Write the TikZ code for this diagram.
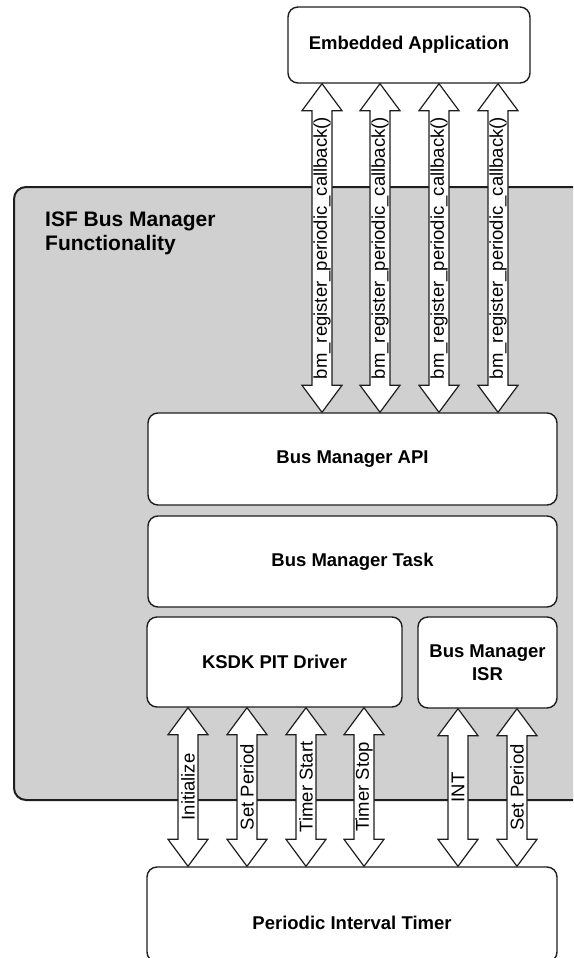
\documentclass[tikz,border=0pt]{standalone}
\usepackage{fontspec}
\setmainfont{Liberation Sans}
\usetikzlibrary{calc}
\definecolor{panelgray}{RGB}{208,208,208}
\definecolor{linedark}{RGB}{30,30,30}
\newcommand{\blockarrow}[3]{%
  \draw[barr] let \p1=(#1), \p2=(#2) in
    (\x1,\y1) -- (\x1+20pt,\y1-27pt) -- (\x1+10pt,\y1-27pt) -- (\x1+10pt,\y2+27pt)
    -- (\x1+20pt,\y2+27pt) -- (\x2,\y2) -- (\x1-20pt,\y2+27pt) -- (\x1-10pt,\y2+27pt)
    -- (\x1-10pt,\y1-27pt) -- (\x1-20pt,\y1-27pt) -- cycle;
  \node[arrlabel] at ($(#1)!0.5!(#2)$) {#3};
}
\tikzset{
  box/.style={draw=linedark, fill=white, line width=1.4pt, rounded corners=10pt,
    inner sep=0pt, font=\fontsize{18.5}{23}\selectfont\bfseries, align=center},
  barr/.style={draw=linedark, fill=white, line width=1.2pt, line join=miter},
  arrlabel/.style={rotate=90, inner sep=0pt, font=\fontsize{18.5}{20}\selectfont},
}
\begin{document}
\begin{tikzpicture}[x=1pt,y=-1pt]
\clip (0,0) rectangle (573,958);
\useasboundingbox (0,0) rectangle (573,958);
% panel
\draw[draw=linedark, fill=panelgray, line width=2pt, rounded corners=12pt] (14,187) rectangle (600,800);
\node[anchor=north west, inner sep=0pt, align=left, font=\fontsize{21}{24}\selectfont\bfseries] (isf) at (45,212) {ISF Bus Manager\\Functionality};
% boxes
\node[box, minimum width=242pt, minimum height=76pt] (emb) at (409,45) {Embedded Application};
\node[box, minimum width=409pt, minimum height=92pt] (api) at (352.5,459) {Bus Manager API};
\node[box, minimum width=409pt, minimum height=91pt] (task) at (352.5,561.5) {Bus Manager Task};
\node[box, minimum width=255pt, minimum height=90pt] (drv) at (274.5,662) {KSDK PIT Driver};
\node[box, minimum width=139pt, minimum height=91pt] (isr) at (487.5,662.5) {Bus Manager\\ISR};
\node[box, minimum width=410pt, minimum height=95pt] (pit) at (352,914.5) {};
\node[inner sep=0pt, font=\fontsize{18.5}{23}\selectfont\bfseries] (pittext) at (352,923) {Periodic Interval Timer};
% top arrows
\coordinate (t1) at ([xshift=-87pt]emb.south);
\coordinate (t2) at ([xshift=-29pt]emb.south);
\coordinate (t3) at ([xshift=30pt]emb.south);
\coordinate (t4) at ([xshift=89pt]emb.south);
\blockarrow{t1}{t1 |- api.north}{bm\_register\_periodic\_callback()}
\blockarrow{t2}{t2 |- api.north}{bm\_register\_periodic\_callback()}
\blockarrow{t3}{t3 |- api.north}{bm\_register\_periodic\_callback()}
\blockarrow{t4}{t4 |- api.north}{bm\_register\_periodic\_callback()}
% bottom arrows
\coordinate (b1) at ([xshift=-86.5pt]drv.south);
\coordinate (b2) at ([xshift=-27.5pt]drv.south);
\coordinate (b3) at ([xshift=31.5pt]drv.south);
\coordinate (b4) at ([xshift=89.5pt]drv.south);
\coordinate (b5) at ([xshift=-29.5pt]isr.south);
\coordinate (b6) at ([xshift=29.5pt]isr.south);
\blockarrow{b1}{b1 |- pit.north}{Initialize}
\blockarrow{b2}{b2 |- pit.north}{Set Period}
\blockarrow{b3}{b3 |- pit.north}{Timer Start}
\blockarrow{b4}{b4 |- pit.north}{Timer Stop}
\blockarrow{b5}{b5 |- pit.north}{INT}
\blockarrow{b6}{b6 |- pit.north}{Set Period}
\end{tikzpicture}
\end{document}
